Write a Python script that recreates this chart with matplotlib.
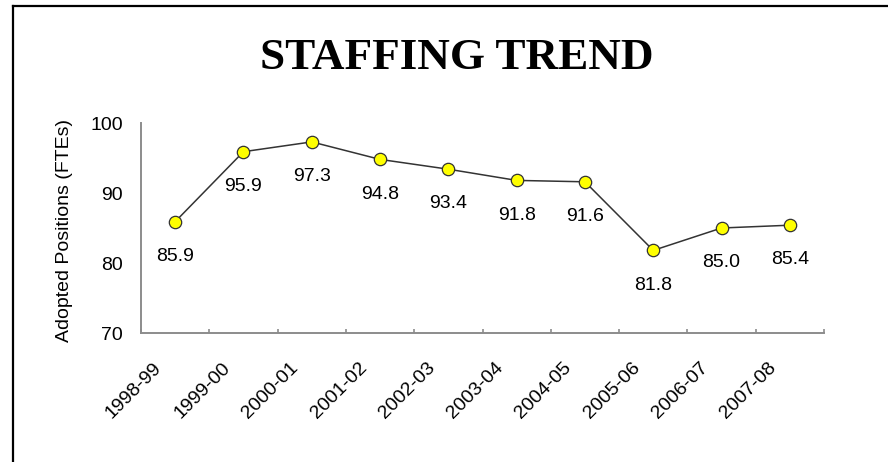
#!/usr/bin/env python3
"""Staffing trend line chart: adopted positions (FTEs) by fiscal year."""
import matplotlib
matplotlib.use("Agg")
import matplotlib.pyplot as plt
from matplotlib.lines import Line2D
from matplotlib.transforms import ScaledTranslation

years = ["1998-99", "1999-00", "2000-01", "2001-02", "2002-03",
         "2003-04", "2004-05", "2005-06", "2006-07", "2007-08"]
ftes = [85.9, 95.9, 97.3, 94.8, 93.4, 91.8, 91.6, 81.8, 85.0, 85.4]
y_ticks = [70, 80, 90, 100]

plt.rcParams["font.family"] = ["Liberation Sans", "DejaVu Sans"]
AXIS_GRAY = "#8c8c8c"

fig = plt.figure(figsize=(8.88, 4.62), dpi=100)
ax = fig.add_axes([141 / 888, 1 - 333 / 462, 683 / 888, 210 / 462])

xs = [i + 0.5 for i in range(len(years))]
ax.plot(xs, ftes, color="#333333", lw=1.1, marker="o", ms=8.9,
        mfc="#ffff00", mec="#333333", mew=0.9, zorder=3, clip_on=False)
for x, v in zip(xs, ftes):
    ax.annotate(f"{v:.1f}", (x, v), xytext=(0, -25), textcoords="offset points",
                ha="center", va="center", fontsize=14)

ax.set_xlim(0, len(years))
ax.set_ylim(70, 100)
ax.set_yticks(y_ticks)
ax.tick_params(axis="y", length=0, pad=13, labelsize=14)

# category boundaries carry the tick marks, centres carry the labels
ax.set_xticks(range(len(years) + 1))
ax.set_xticklabels([])
ax.tick_params(axis="x", which="major", direction="in", length=3,
               width=1.2, color=AXIS_GRAY)
ax.set_xticks(xs, minor=True)
ax.set_xticklabels(years, minor=True, rotation=45, ha="right",
                   rotation_mode="anchor", fontsize=14)
ax.tick_params(axis="x", which="minor", length=0, pad=19)
shift = ScaledTranslation(-22 / 100, 0, fig.dpi_scale_trans)
for lab in ax.get_xticklabels(minor=True):
    lab.set_transform(lab.get_transform() + shift)

for side in ("top", "right"):
    ax.spines[side].set_visible(False)
for side in ("left", "bottom"):
    ax.spines[side].set_color(AXIS_GRAY)
    ax.spines[side].set_linewidth(1.4)

ax.set_ylabel("Adopted Positions (FTEs)", fontsize=14)
ax.yaxis.set_label_coords(-0.1, 0.49)

fig.text(456.5 / 888, 1 - 69 / 462, "STAFFING TREND", ha="center",
         va="baseline", fontsize=32.5, fontweight="bold",
         family=["Liberation Serif", "DejaVu Serif"])

# outer frame: only the top and left edges fall inside the picture
fig.add_artist(Line2D([13 / 888, 1], [1 - 5.5 / 462, 1 - 5.5 / 462],
                      transform=fig.transFigure, color="black", lw=1.6))
fig.add_artist(Line2D([13 / 888, 13 / 888], [0, 1 - 5.5 / 462],
                      transform=fig.transFigure, color="black", lw=1.6))

fig.savefig("out.png", dpi=100)
